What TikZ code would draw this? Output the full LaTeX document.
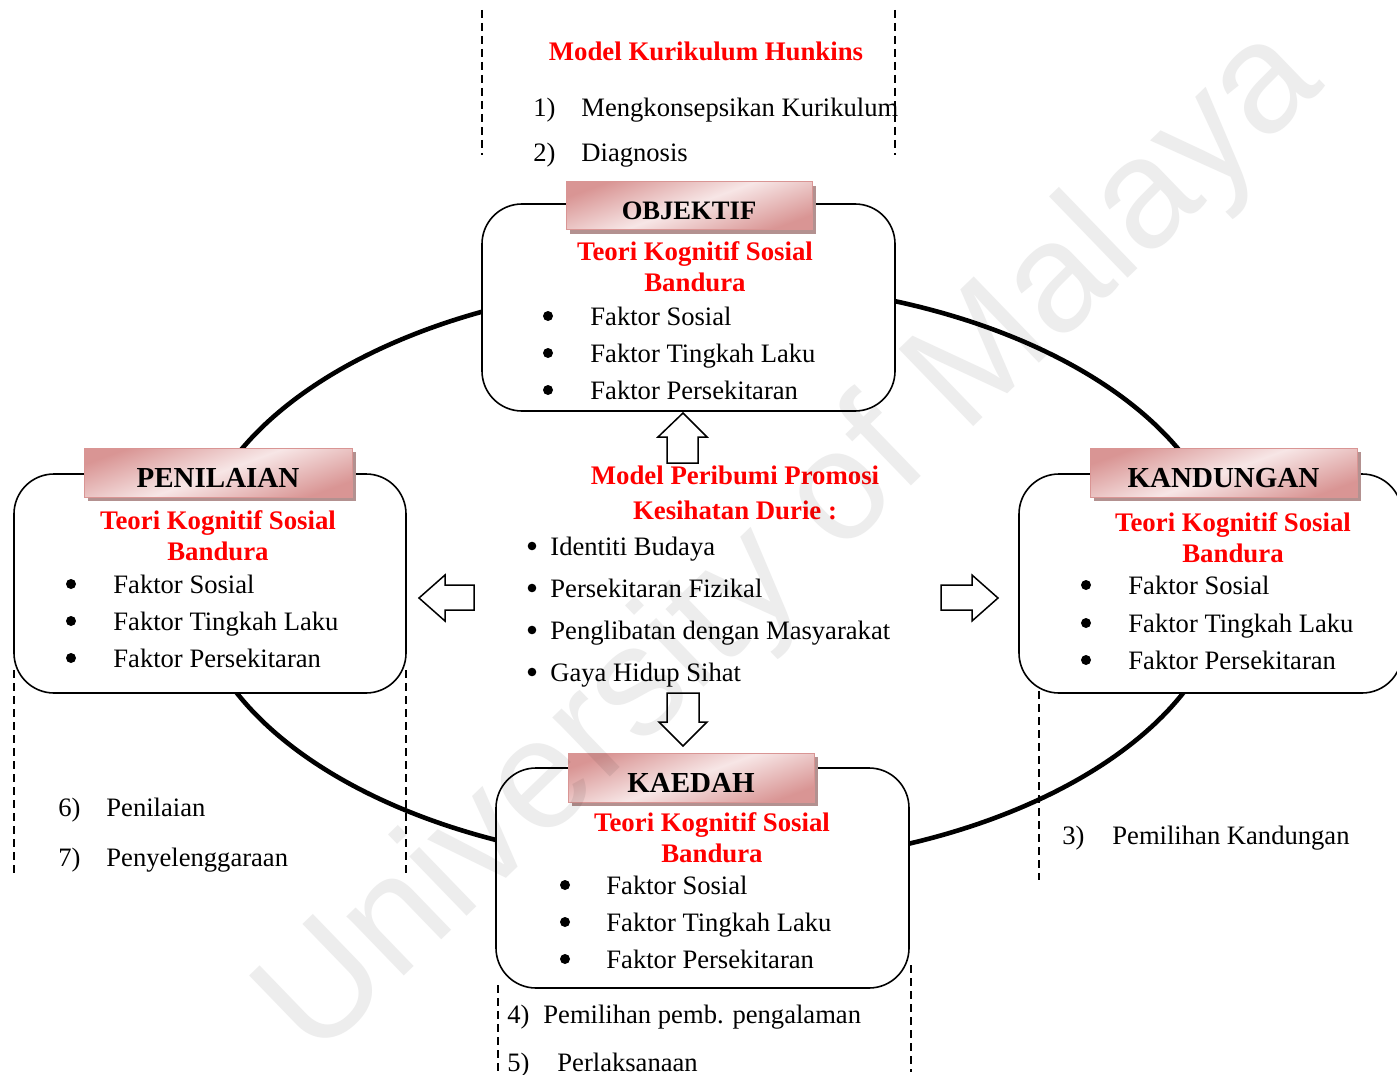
\documentclass[tikz,border=0pt]{standalone}
\usepackage{fontspec}
\setmainfont{Liberation Serif}
\newfontfamily\wmfont{Liberation Sans}
\usetikzlibrary{shadows}
\definecolor{tabdark}{HTML}{D99594}
\definecolor{tablight}{HTML}{F7E6E6}
\definecolor{tabshadow}{HTML}{B39190}
\definecolor{wmgray}{HTML}{EDEDED}
\begin{document}
\begin{tikzpicture}[x=0.5pt,y=-0.5pt,
  body/.style={font=\fontsize{13.3}{15.5}\selectfont, inner sep=0pt, text height=10.5pt, text depth=1.5pt},
  lt/.style={body, anchor=west},
  redt/.style={body, font=\fontsize{13.4}{15.5}\selectfont\bfseries, text=red, anchor=center},
  bigdot/.style={circle, fill=black, inner sep=0pt, minimum size=5pt},
  smalldot/.style={circle, fill=black, inner sep=0pt, minimum size=4.3pt},
  roundbox/.style={draw=black, line width=0.8pt, rounded corners=20pt, fill=white, inner sep=0pt},
  tabbox/.style={draw=tabdark, line width=0.5pt, inner sep=0pt, top color=tabdark, bottom color=tabdark, middle color=tablight, shading angle=20,
    drop shadow={shadow xshift=2.2pt, shadow yshift=-2.2pt, fill=tabshadow, opacity=1, draw=none},
    font=\fontsize{14.5}{17}\selectfont\bfseries, text height=15pt, text depth=0pt},
  blockarrow/.style={draw=black, line width=0.75pt, fill=white, line join=miter},
  dashln/.style={line width=0.75pt, dash pattern=on 4pt off 2.5pt},
  ring/.style={line width=2.3pt}
]
\path[use as bounding box, clip] (0,0) rectangle (1397,1075);
\fill[white] (0,0) rectangle (1397,1075);

% big ellipse
\draw[ring] (710,574) ellipse [x radius=518, y radius=292];

% dashed guide lines
\coordinate (d1a) at (482,10);  \coordinate (d1b) at (482,155);
\coordinate (d2a) at (895,10);  \coordinate (d2b) at (895,155);
\coordinate (d3a) at (14,670);  \coordinate (d3b) at (14,875);
\coordinate (d4a) at (406,670); \coordinate (d4b) at (406,875);
\coordinate (d5a) at (1039,678); \coordinate (d5b) at (1039,880);
\coordinate (d6a) at (498,985); \coordinate (d6b) at (498,1072);
\coordinate (d7a) at (911,965); \coordinate (d7b) at (911,1072);
\foreach \n in {1,...,7} \draw[dashln] (d\n a) -- (d\n b);

% boxes
\node[roundbox, minimum width=206.5pt, minimum height=103.5pt] (objbox) at (688.5,307.5) {};
\node[roundbox, minimum width=196pt, minimum height=109.5pt] (penbox) at (210,583.5) {};
\node[roundbox, minimum width=191.5pt, minimum height=109.5pt] (kanbox) at (1210.5,583.5) {};
\node[roundbox, minimum width=206.5pt, minimum height=110pt] (kaebox) at (702.5,878) {};

% tabs
\node[tabbox, minimum width=123pt, minimum height=24pt, font=\fontsize{13.3}{15.5}\selectfont\bfseries, text height=14pt] (objtab) at (689,206) {OBJEKTIF};
\node[tabbox, minimum width=134pt, minimum height=24.5pt] (pentab) at (218,472.5) {PENILAIAN};
\node[tabbox, minimum width=133.5pt, minimum height=24.5pt] (kantab) at (1223.5,472.5) {KANDUNGAN};
\node[tabbox, minimum width=123pt, minimum height=24.5pt] (kaetab) at (691,777.5) {KAEDAH};

% block arrows
\draw[blockarrow] (667,463) -- (667,437) -- (658,437) -- (683,413) -- (707,437) -- (698,437) -- (698,463) -- cycle;
\draw[blockarrow] (667,693) -- (667,722) -- (659,722) -- (683,746) -- (707,722) -- (699,722) -- (699,693) -- cycle;
\draw[blockarrow] (474,585) -- (445,585) -- (445,575) -- (419,598) -- (445,621) -- (445,610) -- (474,610) -- cycle;
\draw[blockarrow] (941,585) -- (972,585) -- (972,575) -- (998,598) -- (972,621) -- (972,610) -- (941,610) -- cycle;

% top text
\node[redt] (hunk) at (706,52) {Model Kurikulum Hunkins};
\node[lt] (n1) at (533,108) {1)};
\node[lt] (t1) at (581,108) {Mengkonsepsikan Kurikulum};
\node[lt] (n2) at (533,153) {2)};
\node[lt] (t2) at (581,153) {Diagnosis};

% objektif content
\node[redt] (objr1) at (695,252) {Teori Kognitif Sosial};
\node[redt] (objr2) at (695,283) {Bandura};
\foreach \y/\t [count=\i] in {316/Faktor Sosial,353/Faktor Tingkah Laku,390/Faktor Persekitaran}{
  \node[bigdot] (objb\i) at (548,\y) {};
  \node[lt] (objt\i) at (590,\y) {\t};
}

% penilaian content
\node[redt] (penr1) at (218,520) {Teori Kognitif Sosial};
\node[redt] (penr2) at (218,551) {Bandura};
\foreach \y/\t [count=\i] in {584/Faktor Sosial,621/Faktor Tingkah Laku,658/Faktor Persekitaran}{
  \node[bigdot] (penb\i) at (71,\y) {};
  \node[lt] (pent\i) at (113,\y) {\t};
}

% kandungan content
\node[redt] (kanr1) at (1233,522) {Teori Kognitif Sosial};
\node[redt] (kanr2) at (1233,553) {Bandura};
\foreach \y/\t [count=\i] in {585/Faktor Sosial,623/Faktor Tingkah Laku,660/Faktor Persekitaran}{
  \node[bigdot] (kanb\i) at (1086,\y) {};
  \node[lt] (kant\i) at (1128,\y) {\t};
}

% kaedah content
\node[redt] (kaer1) at (712,822) {Teori Kognitif Sosial};
\node[redt] (kaer2) at (712,853) {Bandura};
\foreach \y/\t [count=\i] in {885/Faktor Sosial,922/Faktor Tingkah Laku,959/Faktor Persekitaran}{
  \node[bigdot] (kaeb\i) at (565,\y) {};
  \node[lt] (kaet\i) at (606,\y) {\t};
}

% centre content
\node[redt] (cr1) at (735,475) {Model Peribumi Promosi};
\node[redt] (cr2) at (735,510) {Kesihatan Durie :};
\foreach \y/\t [count=\i] in {546/Identiti Budaya,588/Persekitaran Fizikal,630/Penglibatan dengan Masyarakat,672/Gaya Hidup Sihat}{
  \node[smalldot] (cb\i) at (532,\y) {};
  \node[lt] (ct\i) at (550,\y) {\t};
}

% numbered steps
\node[lt] (n6) at (58,807) {6)};
\node[lt] (t6) at (106,807) {Penilaian};
\node[lt] (n7) at (58,857) {7)};
\node[lt] (t7) at (106,857) {Penyelenggaraan};
\node[lt] (n3) at (1062,835) {3)};
\node[lt] (t3) at (1112,835) {Pemilihan Kandungan};
\node[lt] (n4) at (507,1014) {4)};
\node[lt] (t4) at (543,1014) {Pemilihan pemb. pengalaman};
\node[lt] (n5) at (507,1062) {5)};
\node[lt] (t5) at (557,1062) {Perlaksanaan};

% watermark
\begin{scope}[blend mode=multiply]
\node[rotate=44, text=wmgray, font=\wmfont\fontsize{78}{80}\selectfont, inner sep=0pt] (wm) at (793,545) {University of Malaya};
\end{scope}
\end{tikzpicture}
\end{document}
